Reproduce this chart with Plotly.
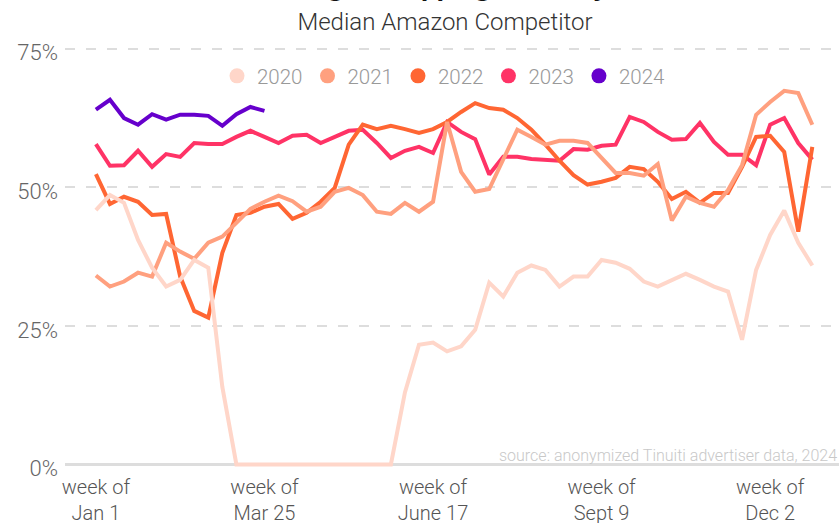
import plotly.graph_objects as go

weeks = list(range(52))

y2020 = [45.9, 48.6, 47.2, 40.5, 35.5, 32.1, 33.3, 36.9, 35.5, 14.0,
         0, 0, 0, 0, 0, 0, 0, 0, 0, 0, 0, 0,
         13.0, 21.6, 22.0, 20.4, 21.3, 24.3, 32.8, 30.3, 34.6, 35.9, 35.1, 32.1,
         33.9, 33.9, 36.9, 36.4, 35.3, 33.0, 32.1, 33.2, 34.4, 33.3, 32.1, 31.2,
         22.5, 35.1, 41.4, 45.8, 40.0, 35.9]
y2021 = [34.1, 32.1, 33.0, 34.6, 33.9, 40.0, 38.4, 37.1, 40.0, 41.1, 43.6, 46.1,
         47.4, 48.5, 47.5, 45.6, 46.5, 49.2, 49.9, 48.6, 45.6, 45.2, 47.2, 45.6,
         47.4, 61.8, 52.8, 49.2, 49.7, 55.0, 60.4, 59.1, 57.7, 58.4, 58.4, 58.0,
         55.3, 52.6, 52.6, 52.1, 54.2, 44.0, 48.3, 47.2, 46.5, 49.5, 54.0, 63.1,
         65.4, 67.4, 67.0, 61.3]
y2022 = [52.4, 47.0, 48.3, 47.4, 45.0, 45.2, 33.9, 27.7, 26.5, 38.2, 45.0, 45.4,
         46.5, 47.0, 44.3, 45.4, 47.4, 49.9, 57.7, 61.3, 60.5, 61.1, 60.5, 59.8,
         60.5, 61.8, 63.6, 65.2, 64.3, 64.0, 62.5, 60.4, 57.7, 54.8, 52.2, 50.5,
         51.0, 51.7, 53.7, 53.3, 51.0, 47.9, 49.2, 47.2, 49.0, 49.0, 53.7, 59.1,
         59.3, 56.4, 42.0, 57.3]
y2023 = [57.8, 53.9, 54.0, 56.6, 53.7, 56.0, 55.5, 58.0, 57.8, 57.8, 59.1, 60.2,
         59.1, 58.0, 59.3, 59.5, 58.0, 59.1, 60.2, 60.4, 58.0, 55.3, 56.6, 57.3,
         56.2, 61.8, 60.0, 58.7, 52.3, 55.5, 55.5, 55.1, 55.0, 54.8, 56.9, 56.8,
         57.5, 57.7, 62.7, 61.8, 60.0, 58.6, 58.7, 61.6, 58.2, 55.9, 55.9, 54.0,
         61.3, 62.5, 58.0, 55.0]
y2024 = [64.0, 65.8, 62.5, 61.3, 63.2, 62.2, 63.1, 63.1, 62.9, 61.1, 63.2, 64.5, 63.8]

years = ["2020", "2021", "2022", "2023", "2024"]
series = [y2020, y2021, y2022, y2023, y2024]
colors = ["#FFD6C9", "#FFA07F", "#FF6633", "#FF3366", "#6600CC"]

tick_vals = [0, 12, 24, 36, 48]
tick_text = ["week of<br>Jan 1", "week of<br>Mar 25", "week of<br>June 17",
             "week of<br>Sept 9", "week of<br>Dec 2"]
y_tick_vals = [0, 25, 50, 75]
y_tick_text = ["0%", "25%", "50%", "75%"]

FONT = "Roboto"
W, H = 839, 523
ML, MR, MT, MB = 65, 0, 46, 53
PW, PH = W - ML - MR, H - MT - MB


def px_x(x):  # page x pixel -> paper coordinate
    return (x - ML) / PW


def px_y(y):  # page y pixel -> paper coordinate
    return (H - MB - y) / PH


fig = go.Figure()

# lines, drawn latest year first so earlier years sit on top
for yr, vals, col in reversed(list(zip(years, series, colors))):
    fig.add_trace(go.Scatter(
        x=weeks[:len(vals)], y=vals, mode="lines", name=yr,
        line=dict(color=col, width=4), legendgroup=yr, showlegend=False,
        hoverinfo="skip"))

# legend entries with round markers
for yr, col in zip(years, colors):
    fig.add_trace(go.Scatter(
        x=[None], y=[None], mode="markers", name=yr, legendgroup=yr,
        marker=dict(color=col, size=15, symbol="circle")))

fig.update_layout(
    width=W, height=H,
    margin=dict(l=ML, r=MR, t=MT, b=MB, autoexpand=False),
    paper_bgcolor="white", plot_bgcolor="white",
    font=dict(family=FONT, weight=300, color="#666"),
    title=dict(text="Median Amazon Competitor", x=445 / W, xanchor="center",
               xref="container", y=1 - 22 / H, yanchor="middle", yref="container",
               font=dict(family=FONT, size=24, weight=300, color="#333")),
    showlegend=True,
    legend=dict(orientation="h", xref="paper", yref="paper",
                x=px_x(444), xanchor="center", y=px_y(76), yanchor="middle",
                font=dict(family=FONT, size=20.5, weight=300, color="#999"),
                bgcolor="rgba(0,0,0,0)", itemwidth=30, traceorder="normal"),
    xaxis=dict(range=[-2.2, 52.9], tickvals=tick_vals, ticktext=tick_text,
               showgrid=False, zeroline=False, showline=False, ticks="",
               ticklabelstandoff=3,
               tickfont=dict(family=FONT, size=20, weight=300, color="#555")),
    yaxis=dict(range=[-1, 75.5], tickvals=y_tick_vals, ticktext=y_tick_text,
               showgrid=True, gridcolor="#DDDDDD", gridwidth=1.5,
               griddash="10px,11px", zeroline=True, zerolinecolor="#DDDDDD",
               zerolinewidth=3, showline=False, ticks="", ticklabelstandoff=6,
               ticklabelshift=4,
               tickfont=dict(family=FONT, size=22, weight=300, color="#666")),
    annotations=[
        dict(text="source: anonymized Tinuiti advertiser data, 2024",
             xref="paper", yref="paper", x=1, y=px_y(455), xanchor="right",
             yanchor="middle", showarrow=False,
             font=dict(family=FONT, size=16, weight=300, color="#C8C8C8")),
        dict(text="<b>Google Shopping Visibility</b>", xref="paper",
             yref="paper", x=px_x(443), y=px_y(4),
             xanchor="center", yanchor="bottom", showarrow=False,
             font=dict(family="DejaVu Sans", size=22, color="#111")),
    ],
)

fig.write_html("out.html", config={"displayModeBar": False},
               post_script="document.body.style.margin='0';document.body.style.padding='0';")
